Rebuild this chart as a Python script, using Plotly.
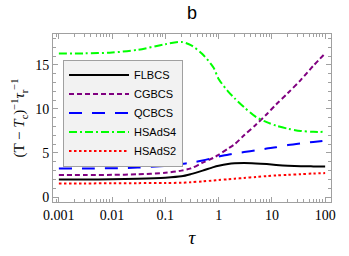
import plotly.graph_objects as go

tau = [0.001, 0.003, 0.01, 0.03, 0.1, 0.2, 0.3, 0.5, 0.8, 1, 1.5, 2, 3, 5, 8, 12, 20, 35, 60, 100]

flbcs = [2.0, 2.0, 2.02, 2.08, 2.2, 2.35, 2.6, 3.0, 3.4, 3.55, 3.75, 3.83, 3.87, 3.82, 3.74, 3.65, 3.56, 3.5, 3.48, 3.47]
cgbcs = [2.5, 2.5, 2.52, 2.58, 2.75, 3.0, 3.25, 3.9, 4.45, 4.8, 5.5, 6.0, 7.0, 8.2, 9.4, 10.5, 11.8, 13.3, 14.9, 16.3]
qcbcs = [3.25, 3.25, 3.27, 3.35, 3.55, 3.75, 3.9, 4.15, 4.45, 4.6, 4.8, 4.95, 5.1, 5.3, 5.5, 5.65, 5.9, 6.1, 6.25, 6.4]
hsads4 = [16.3, 16.3, 16.4, 16.7, 17.35, 17.6, 17.25, 16.2, 14.7, 13.4, 12.0, 11.2, 10.2, 9.1, 8.5, 8.1, 7.75, 7.5, 7.4, 7.4]
hsads2 = [1.55, 1.55, 1.56, 1.58, 1.6, 1.62, 1.68, 1.78, 1.88, 1.93, 2.02, 2.08, 2.17, 2.28, 2.38, 2.45, 2.52, 2.6, 2.67, 2.72]

series = [
    ("FLBCS", flbcs, "#000000", "solid"),
    ("CGBCS", cgbcs, "#800080", "5px,3px"),
    ("QCBCS", qcbcs, "#0000FF", "13px,10px"),
    ("HSAdS4", hsads4, "#00FF00", "8px,3px,2px,3px"),
    ("HSAdS2", hsads2, "#FF0000", "2.5px,2.5px"),
]

fig = go.Figure()
for name, vals, color, dash in series:
    fig.add_trace(go.Scatter(
        x=tau, y=vals, name=name, mode="lines",
        line=dict(color=color, width=2, dash=dash, shape="spline", smoothing=0.8),
    ))

axis_common = dict(
    showline=True, linecolor="#a0a0a0", linewidth=1, mirror="allticks",
    ticks="inside", ticklen=5, tickcolor="#a0a0a0", showgrid=False, zeroline=False,
    tickfont=dict(family="Liberation Serif", size=14, color="black"),
)

fig.update_layout(
    width=349, height=256,
    margin=dict(l=53, r=18, t=34, b=51),
    paper_bgcolor="white", plot_bgcolor="white",
    title=dict(text="b", x=0.55, xanchor="center", y=0.95, yanchor="middle",
               font=dict(family="Liberation Sans", size=18, color="black")),
    showlegend=True,
    legend=dict(x=0.036, y=0.848, xanchor="left", yanchor="top",
                bgcolor="#f2f2f2", bordercolor="#a0a0a0", borderwidth=1,
                font=dict(family="Liberation Sans", size=11, color="black"),
                itemwidth=60),
)
fig.update_xaxes(
    type="log", range=[-3.11, 2.11],
    tickvals=[0.001, 0.01, 0.1, 1, 10, 100],
    ticktext=["0.001", "0.01", "0.1", "1", "10", "100"],
    minor=dict(ticks="inside", ticklen=3, tickcolor="#a0a0a0", dtick="D1", showgrid=False),
    title=dict(text="<i>τ</i>", font=dict(family="Liberation Serif", size=19, color="black"), standoff=8),
    **axis_common,
)
fig.update_yaxes(
    range=[-0.56, 18.5], tickvals=[0, 5, 10, 15],
    minor=dict(ticks="inside", ticklen=3, tickcolor="#a0a0a0", dtick=1, showgrid=False),
    title=dict(text="(T − <i>T</i><sub>c</sub>)<sup>−1</sup><i>τ</i><sub>r</sub><sup>−1</sup>",
               font=dict(family="Liberation Serif", size=15, color="black"), standoff=6),
    **axis_common,
)

fig.write_html("out.html", config={"displayModeBar": False},
               post_script="document.body.style.margin='0';")
